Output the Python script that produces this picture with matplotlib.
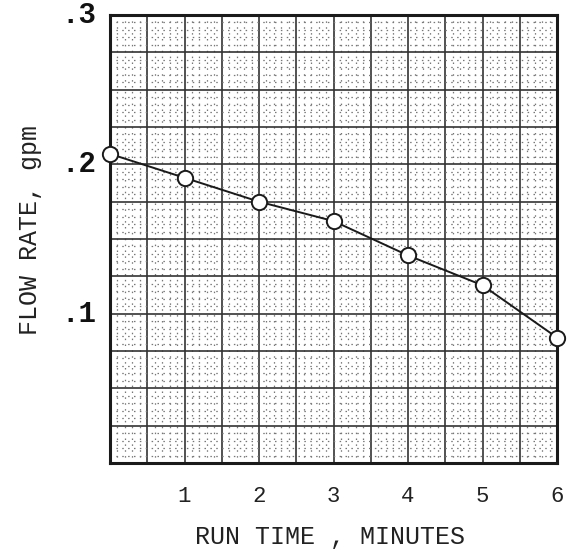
import matplotlib
matplotlib.use("Agg")
import matplotlib.pyplot as plt
from matplotlib.ticker import MultipleLocator

# Data
run_time = [0, 1, 2, 3, 4, 5, 6]
flow_rate = [0.207, 0.191, 0.175, 0.162, 0.139, 0.119, 0.084]
x_tick_vals = [1, 2, 3, 4, 5, 6]
x_tick_labels = ["1", "2", "3", "4", "5", "6"]
y_tick_vals = [0.1, 0.2, 0.3]
y_tick_labels = [".1", ".2", ".3"]

mono = ["Liberation Mono", "DejaVu Sans Mono"]

fig = plt.figure(figsize=(5.71, 5.56), dpi=100)
ax = fig.add_axes([110/571, 1 - 463/556, (557-110)/571, (463-15)/556])

ax.set_xlim(0, 6)
ax.set_ylim(0, 0.3)

# graph-paper grid
ax.xaxis.set_major_locator(MultipleLocator(0.5))
ax.yaxis.set_major_locator(MultipleLocator(0.025))
ax.xaxis.set_minor_locator(MultipleLocator(0.1))
ax.yaxis.set_minor_locator(MultipleLocator(0.005))
ax.grid(which="major", color="#333333", linewidth=1.2)
ax.grid(which="minor", color="#777777", linewidth=0.9, linestyle=(0, (1.2, 3.5)))
ax.set_axisbelow(True)
ax.tick_params(which="both", length=0)
ax.set_xticklabels([])
ax.set_yticklabels([])

for s in ax.spines.values():
    s.set_linewidth(2.2)
    s.set_color("#1a1a1a")

ax.plot(run_time, flow_rate, color="#1a1a1a", linewidth=1.4, zorder=3)
ax.plot(run_time, flow_rate, linestyle="none", marker="o", markersize=11,
        markerfacecolor="white", markeredgecolor="#1a1a1a", markeredgewidth=1.4,
        zorder=4, clip_on=False)

for xv, lab in zip(x_tick_vals, x_tick_labels):
    ax.annotate(lab, xy=(xv, 0), xycoords="data", xytext=(0, -24),
                textcoords="offset points", ha="center", va="center",
                fontsize=16, family=mono, color="#222222")
for yv, lab in zip(y_tick_vals, y_tick_labels):
    ax.annotate(lab, xy=(0, yv), xycoords="data", xytext=(-10, 0),
                textcoords="offset points", ha="right", va="center",
                fontsize=21, family=mono, color="#111111", weight="bold")

fig.text(330/571, 1 - 537/556, "RUN TIME , MINUTES", ha="center", va="center",
         fontsize=18, family=mono, color="#222222")
fig.text(30/571, 1 - 230/556, "FLOW RATE, gpm", ha="center", va="center",
         rotation=90, fontsize=18, family=mono, color="#222222")

fig.savefig("out.png", dpi=100, facecolor="white")
